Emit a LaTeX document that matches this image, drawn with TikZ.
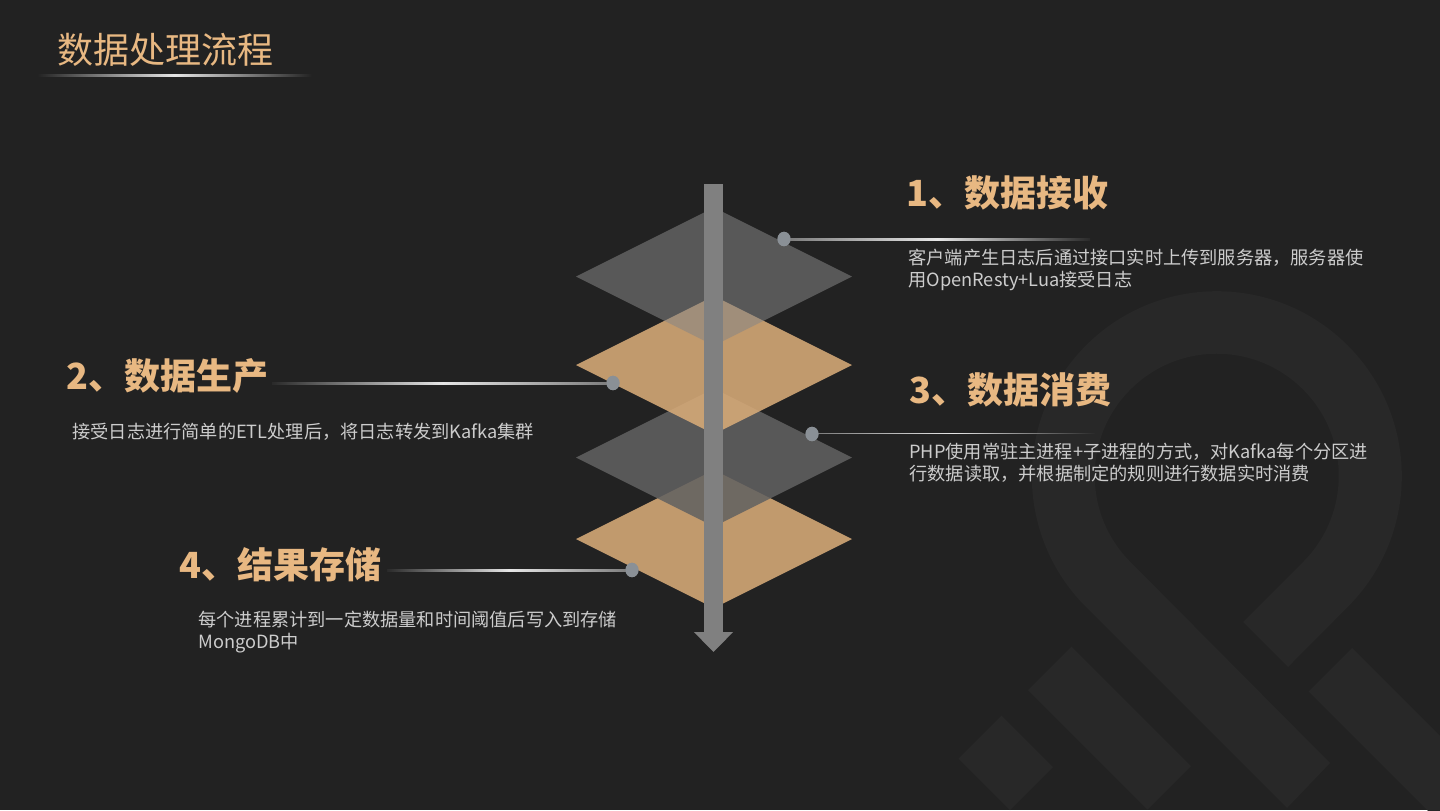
\documentclass[tikz,border=0pt]{standalone}
\usepackage{fontspec}
\newfontfamily\cjk{Noto Sans CJK SC}
\usetikzlibrary{arrows.meta,shapes.geometric}
\definecolor{bg}{HTML}{222222}
\definecolor{wm}{HTML}{282828}
\definecolor{gold}{HTML}{E8B882}
\definecolor{bodytxt}{HTML}{CCCCCC}
\definecolor{grayA}{RGB}{133,133,133}
\definecolor{grayB}{RGB}{97,97,97}
\definecolor{orangeA}{RGB}{217,172,121}
\definecolor{arrowc}{HTML}{808080}
\definecolor{dotc}{RGB}{138,144,150}
\definecolor{lineBright}{HTML}{E6E6E6}
\definecolor{lineMid}{HTML}{7A7A7A}
\definecolor{lineDark}{HTML}{2A2A2A}
\begin{document}
\begin{tikzpicture}[x=0.5pt,y=-0.5pt,
  titletxt/.style={font=\cjk\fontsize{18}{20}\selectfont, text=gold, inner sep=0pt, anchor=base west},
  headtxt/.style={font=\cjk\bfseries\fontsize{18}{20}\selectfont, text=gold, inner sep=0pt, anchor=base west},
  bodytext/.style={font=\cjk\fontsize{9.1}{11}\selectfont, text=bodytxt, inner sep=0pt, anchor=base west},
  dotnode/.style={ellipse, fill=dotc, minimum width=6.5pt, minimum height=7.2pt, inner sep=0pt},
  graydia/.style={fill=grayA, fill opacity=0.55},
  graydiadark/.style={fill=grayB, fill opacity=0.86},
  orangedia/.style={fill=orangeA, fill opacity=0.87}
]
% background
\fill[bg] (0,0) rectangle (1440,810);
\useasboundingbox (0,0) rectangle (1440,810);

% watermark
\begin{scope}
\clip (0,0) rectangle (1440,810);
\fill[wm] (1287,808) -- (1086,607) arc[start angle=135, end angle=405, radius=185]
  -- (1288,667) -- (1243,622) -- (1303,562) arc[start angle=45, end angle=-225, radius=122]
  -- (1330,763) -- cycle;
\fill[wm] (1028,690) -- (1071.5,646.5) -- (1191,766) -- (1147.5,809.5) -- cycle;
\fill[wm] (958.5,758.5) -- (1001.5,715.5) -- (1053,767) -- (1010,810) -- cycle;
\fill[wm] (1308.5,691.5) -- (1352,648) -- (1602,898) -- (1558.5,941.5) -- cycle;
\end{scope}

% title
\node[titletxt] (title) at (57,63) {数据处理流程};
\coordinate (tulA) at (37,74);
\coordinate (tulB) at (312,76.5);
\shade[left color=bg, right color=bg, middle color=lineBright] (tulA) rectangle (tulB);

% diamonds (bottom to top)
\fill[orangedia] (576,539) -- (714,470) -- (852,539) -- (714,608) -- cycle;
\fill[graydiadark] (576,457.5) -- (714,388.5) -- (852,457.5) -- (714,526.5) -- cycle;
\fill[orangedia] (576,365) -- (714,296) -- (852,365) -- (714,434) -- cycle;
\fill[graydia] (576,276.5) -- (714,207.5) -- (852,276.5) -- (714,345.5) -- cycle;

% central arrow
\coordinate (atop) at (713.5,184);
\coordinate (abot) at (713.5,652);
\draw[arrowc, line width=9.5pt, -{Triangle[width=19pt,length=10pt]}] (atop) -- (abot);

% dots (positions)
\node[dotnode] (p1) at (784,239) {};
\node[dotnode] (p2) at (613,383) {};
\node[dotnode] (p3) at (812,434) {};
\node[dotnode] (p4) at (632,570) {};

% leader lines
\coordinate (l1e) at (1090,240.2);
\coordinate (l2s) at (272,382);
\coordinate (l3e) at (1095,433.2);
\coordinate (l4s) at (387,569);
\shade[left color=lineMid, right color=lineDark, middle color=lineBright] (p1.center) ++(0,-1) rectangle (l1e);
\shade[left color=lineDark, right color=lineMid, middle color=lineBright] (l2s) rectangle ([yshift=-0.6pt]p2.center);
\shade[left color=lineMid, right color=lineDark, middle color=lineBright] (p3.center) ++(0,-1) rectangle (l3e);
\shade[left color=lineDark, right color=lineMid, middle color=lineBright] (l4s) rectangle ([yshift=-0.6pt]p4.center);
\node[dotnode] at (p1) {};
\node[dotnode] at (p2) {};
\node[dotnode] at (p3) {};
\node[dotnode] at (p4) {};

% headings
\node[headtxt] (h1) at (906,206) {1、数据接收};
\node[headtxt] (h2) at (66,389) {2、数据生产};
\node[headtxt] (h3) at (909,403) {3、数据消费};
\node[headtxt] (h4) at (179,578) {4、结果存储};

% body texts
\node[bodytext] (t1a) at (908,264) {客户端产生日志后通过接口实时上传到服务器，服务器使};
\node[bodytext] (t1b) at (908,286) {用OpenResty+Lua接受日志};
\node[bodytext] (t2) at (72,438) {接受日志进行简单的ETL处理后，将日志转发到Kafka集群};
\node[bodytext] (t3a) at (909,458) {PHP使用常驻主进程+子进程的方式，对Kafka每个分区进};
\node[bodytext] (t3b) at (909,480) {行数据读取，并根据制定的规则进行数据实时消费};
\node[bodytext] (t4a) at (198,626) {每个进程累计到一定数据量和时间阈值后写入到存储};
\node[bodytext] (t4b) at (198,648) {MongoDB中};
\end{tikzpicture}
\end{document}
